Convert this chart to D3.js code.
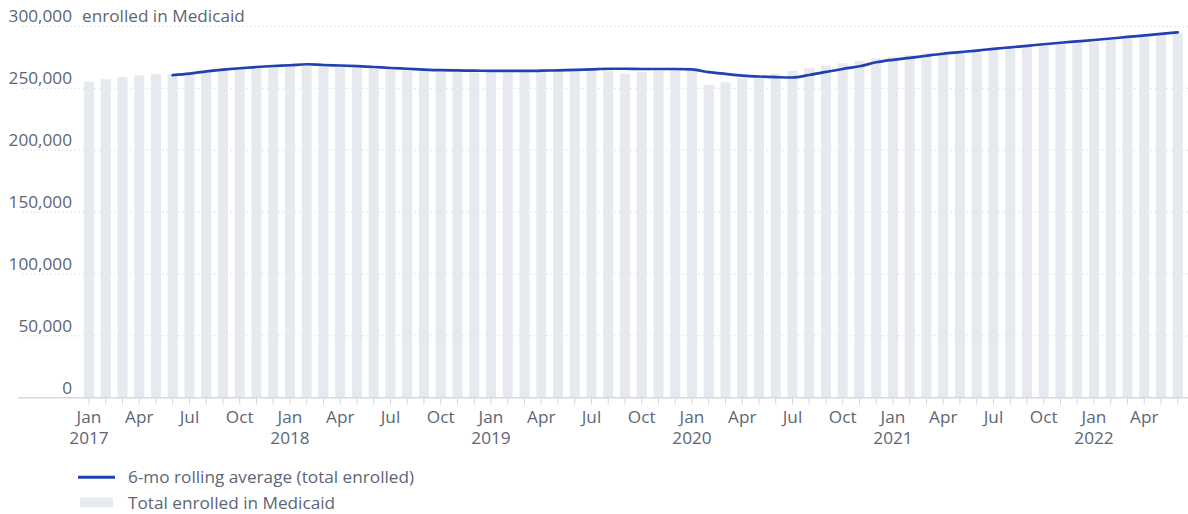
<!DOCTYPE html>
<html>
<head>
<meta charset="utf-8">
<script src="https://cdn.jsdelivr.net/npm/d3@7"></script>
<style>
  html, body { margin: 0; padding: 0; background: #ffffff; }
  svg { display: block; font-family: "Open Sans", "Noto Sans", sans-serif; }
  .tick text { fill: #5d6675; }
</style>
</head>
<body>
<svg id="chart" width="1188" height="514"></svg>
<script>
// Monthly enrollment, Jan 2017 – Jun 2022
const months = d3.timeMonths(new Date(2017, 0, 1), new Date(2022, 6, 1));

// Total enrolled in Medicaid (one value per month)
const totalEnrolled = [
  255300, 257300, 259100, 260500, 261600, 261500, 262500, 263500, 264500, 265500, 266300, 267000,
  267600, 268000, 267500, 267000, 266300, 265600, 265000, 264300, 263800, 263300, 263000, 262800,
  262700, 262800, 263000, 263300, 263600, 264000, 264400, 264600, 261800, 263400, 264200, 264800,
  264800, 252700, 254800, 258100, 259900, 261600, 264200, 266200, 268300, 270200, 272100, 274200,
  275500, 276900, 278300, 279100, 279900, 280900, 281700, 282800, 283600, 284400, 285500, 286400,
  287700, 289000, 290400, 291700, 293100, 294400
];

// 6-month rolling average of total enrolled (starts in Jun 2017)
const rollingAvg = [
  null, null, null, null, null, 260700, 261900, 263600, 265000, 266200, 267200, 268000,
  268600, 269400, 268800, 268400, 267900, 267200, 266400, 265800, 265100, 264600, 264400, 264200,
  264100, 264000, 264000, 264200, 264500, 264800, 265300, 265800, 265800, 265600, 265600, 265600,
  265200, 263000, 261600, 260300, 259500, 259000, 258700, 260700, 263200, 265600, 267800, 271000,
  273000, 274600, 276300, 277900, 279200, 280500, 281900, 283100, 284300, 285600, 286800, 287900,
  289000, 290200, 291500, 292700, 293900, 295200
];

const yTicks = [0, 50000, 100000, 150000, 200000, 250000, 300000];
const monthNames = ["Jan", "Feb", "Mar", "Apr", "May", "Jun", "Jul", "Aug", "Sep", "Oct", "Nov", "Dec"];

const seriesNames = {
  line: "6-mo rolling average (total enrolled)",
  bars: "Total enrolled in Medicaid"
};

const textColor = "#5d6675";
const fontSize = 17.2;

const svg = d3.select("#chart");
const plotTop = 26.4, plotBottom = 397.7;
const plotLeft = 80.6, plotRight = 1186.1;

const x = d3.scaleBand()
  .domain(months.map((d, i) => i))
  .range([plotLeft, plotRight])
  .paddingInner(0.4)
  .paddingOuter(0.2);

const y = d3.scaleLinear()
  .domain([0, 300000])
  .range([plotBottom, plotTop]);

const cx = i => x(i) + x.bandwidth() / 2;

// dotted horizontal gridlines
svg.append("g")
  .selectAll("line")
  .data(yTicks.filter(d => d > 0))
  .join("line")
  .attr("x1", 22)
  .attr("x2", 1188)
  .attr("y1", d => y(d))
  .attr("y2", d => y(d))
  .attr("stroke", "#dfe2e7")
  .attr("stroke-width", 1)
  .attr("stroke-dasharray", "2,2");

// y-axis labels sit just above their gridline
const yLabels = svg.append("g")
  .attr("font-size", fontSize)
  .attr("fill", textColor);
yLabels.selectAll("text")
  .data(yTicks)
  .join("text")
  .attr("x", 72)
  .attr("y", d => y(d) - 4)
  .attr("text-anchor", "end")
  .text(d => d3.format(",")(d));
yLabels.append("text")
  .attr("x", 82)
  .attr("y", y(300000) - 4)
  .text("enrolled in Medicaid");

// bars
svg.append("g")
  .selectAll("rect")
  .data(totalEnrolled)
  .join("rect")
  .attr("x", (d, i) => x(i))
  .attr("width", x.bandwidth())
  .attr("y", d => y(d))
  .attr("height", d => y(0) - y(d))
  .attr("fill", "#e6e9ee");

// x axis: a tick per month, labels each quarter, year under January
const xAxis = d3.axisBottom(x)
  .tickSize(7)
  .tickSizeOuter(0)
  .tickFormat(i => {
    const m = months[i].getMonth();
    return m % 3 === 0 ? monthNames[m] : "";
  });

const gx = svg.append("g")
  .attr("transform", `translate(0,${plotBottom})`)
  .call(xAxis);
gx.select(".domain").remove();
gx.selectAll(".tick line").attr("stroke", "#d3d7de").attr("stroke-width", 1);
gx.selectAll(".tick text")
  .attr("font-size", fontSize)
  .attr("font-family", "'Open Sans', 'Noto Sans', sans-serif")
  .attr("dy", null)
  .attr("y", 25.5)
  .each(function (i) {
    const d = months[i];
    if (d.getMonth() === 0) {
      d3.select(this).append("tspan")
        .attr("x", 0)
        .attr("y", 46.5)
        .text(d.getFullYear());
    }
  });

// baseline
svg.append("line")
  .attr("x1", 18)
  .attr("x2", 1188)
  .attr("y1", plotBottom)
  .attr("y2", plotBottom)
  .attr("stroke", "#d3d7de")
  .attr("stroke-width", 1.5);

// rolling-average line
const line = d3.line()
  .defined(d => d != null)
  .x((d, i) => cx(i))
  .y(d => y(d))
  .curve(d3.curveMonotoneX);

svg.append("path")
  .datum(rollingAvg)
  .attr("d", line)
  .attr("fill", "none")
  .attr("stroke", "#2140b2")
  .attr("stroke-width", 2.7)
  .attr("stroke-linejoin", "round")
  .attr("stroke-linecap", "round");

// legend
const legend = svg.append("g")
  .attr("font-size", fontSize)
  .attr("fill", textColor);
legend.append("line")
  .attr("x1", 78).attr("x2", 115)
  .attr("y1", 477.3).attr("y2", 477.3)
  .attr("stroke", "#2140b2")
  .attr("stroke-width", 3);
legend.append("text")
  .attr("x", 128)
  .attr("y", 483)
  .text(seriesNames.line);
legend.append("rect")
  .attr("x", 80).attr("y", 497.5)
  .attr("width", 33).attr("height", 10)
  .attr("fill", "#e6e9ee");
legend.append("text")
  .attr("x", 128)
  .attr("y", 509)
  .text(seriesNames.bars);
</script>
</body>
</html>
